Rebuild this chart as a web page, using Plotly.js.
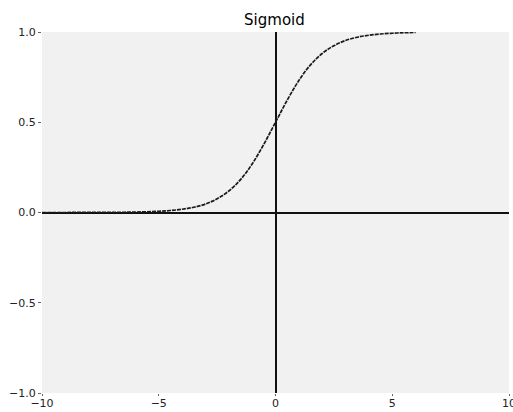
<!DOCTYPE html>
<html>
<head>
<meta charset="utf-8">
<script src="https://cdn.plot.ly/plotly-3.0.1.min.js"></script>
<style>html,body{margin:0;padding:0;background:#fff;}#chart{width:513px;height:412px;}</style>
</head>
<body>
<div id="chart"></div>
<script>
const xValues = [-10,-9,-8,-7,-6,-5,-4.5,-4,-3.5,-3,-2.5,-2,-1.5,-1,-0.5,0,0.5,1,1.5,2,2.5,3,3.5,4,4.5,5,5.5,6];
const yValues = [0.00005,0.0001,0.0003,0.0009,0.0025,0.0067,0.011,0.018,0.029,0.047,0.076,0.119,0.182,0.269,0.378,0.5,0.622,0.731,0.818,0.881,0.924,0.953,0.971,0.982,0.989,0.993,0.996,0.998];
const xTicks = [-10,-5,0,5,10];
const yTicks = [-1.0,-0.5,0.0,0.5,1.0];
const yTickLabels = ['\u22121.0','\u22120.5','0.0','0.5','1.0'];
const xTickLabels = ['\u221210','\u22125','0','5','10'];
const titleText = 'Sigmoid';

const trace = {
  x: xValues, y: yValues, type: 'scatter', mode: 'lines',
  line: {color: '#1a1a1a', width: 1.7, dash: '4px,1px', shape: 'spline'},
  hoverinfo: 'skip'
};
const layout = {
  width: 513, height: 412,
  margin: {l: 42, r: 4, t: 32, b: 19},
  paper_bgcolor: '#ffffff',
  plot_bgcolor: '#f1f1f1',
  showlegend: false,
  title: {text: titleText, x: 0.535, xanchor: 'center', y: 0.953, yanchor: 'middle',
          font: {family: 'DejaVu Sans', size: 15, color: '#000'}},
  font: {family: 'DejaVu Sans', size: 11, color: '#222'},
  xaxis: {range: [-10, 10], tickvals: xTicks, ticktext: xTickLabels,
          showgrid: false, zeroline: true, zerolinecolor: '#111', zerolinewidth: 2,
          showline: false, ticks: 'outside', ticklen: 2, tickcolor: '#666',
          ticklabeloverflow: 'allow', ticklabelstandoff: -2,
          tickfont: {family: 'DejaVu Sans', size: 11, color: '#222'}},
  yaxis: {range: [-1, 1], tickvals: yTicks, ticktext: yTickLabels,
          showgrid: false, zeroline: true, zerolinecolor: '#111', zerolinewidth: 2,
          showline: false, ticks: 'outside', ticklen: 3, tickcolor: '#666',
          ticklabeloverflow: 'allow',
          tickfont: {family: 'DejaVu Sans', size: 11, color: '#222'}}
};
Plotly.newPlot('chart', [trace], layout, {staticPlot: true, displayModeBar: false});
</script>
</body>
</html>
